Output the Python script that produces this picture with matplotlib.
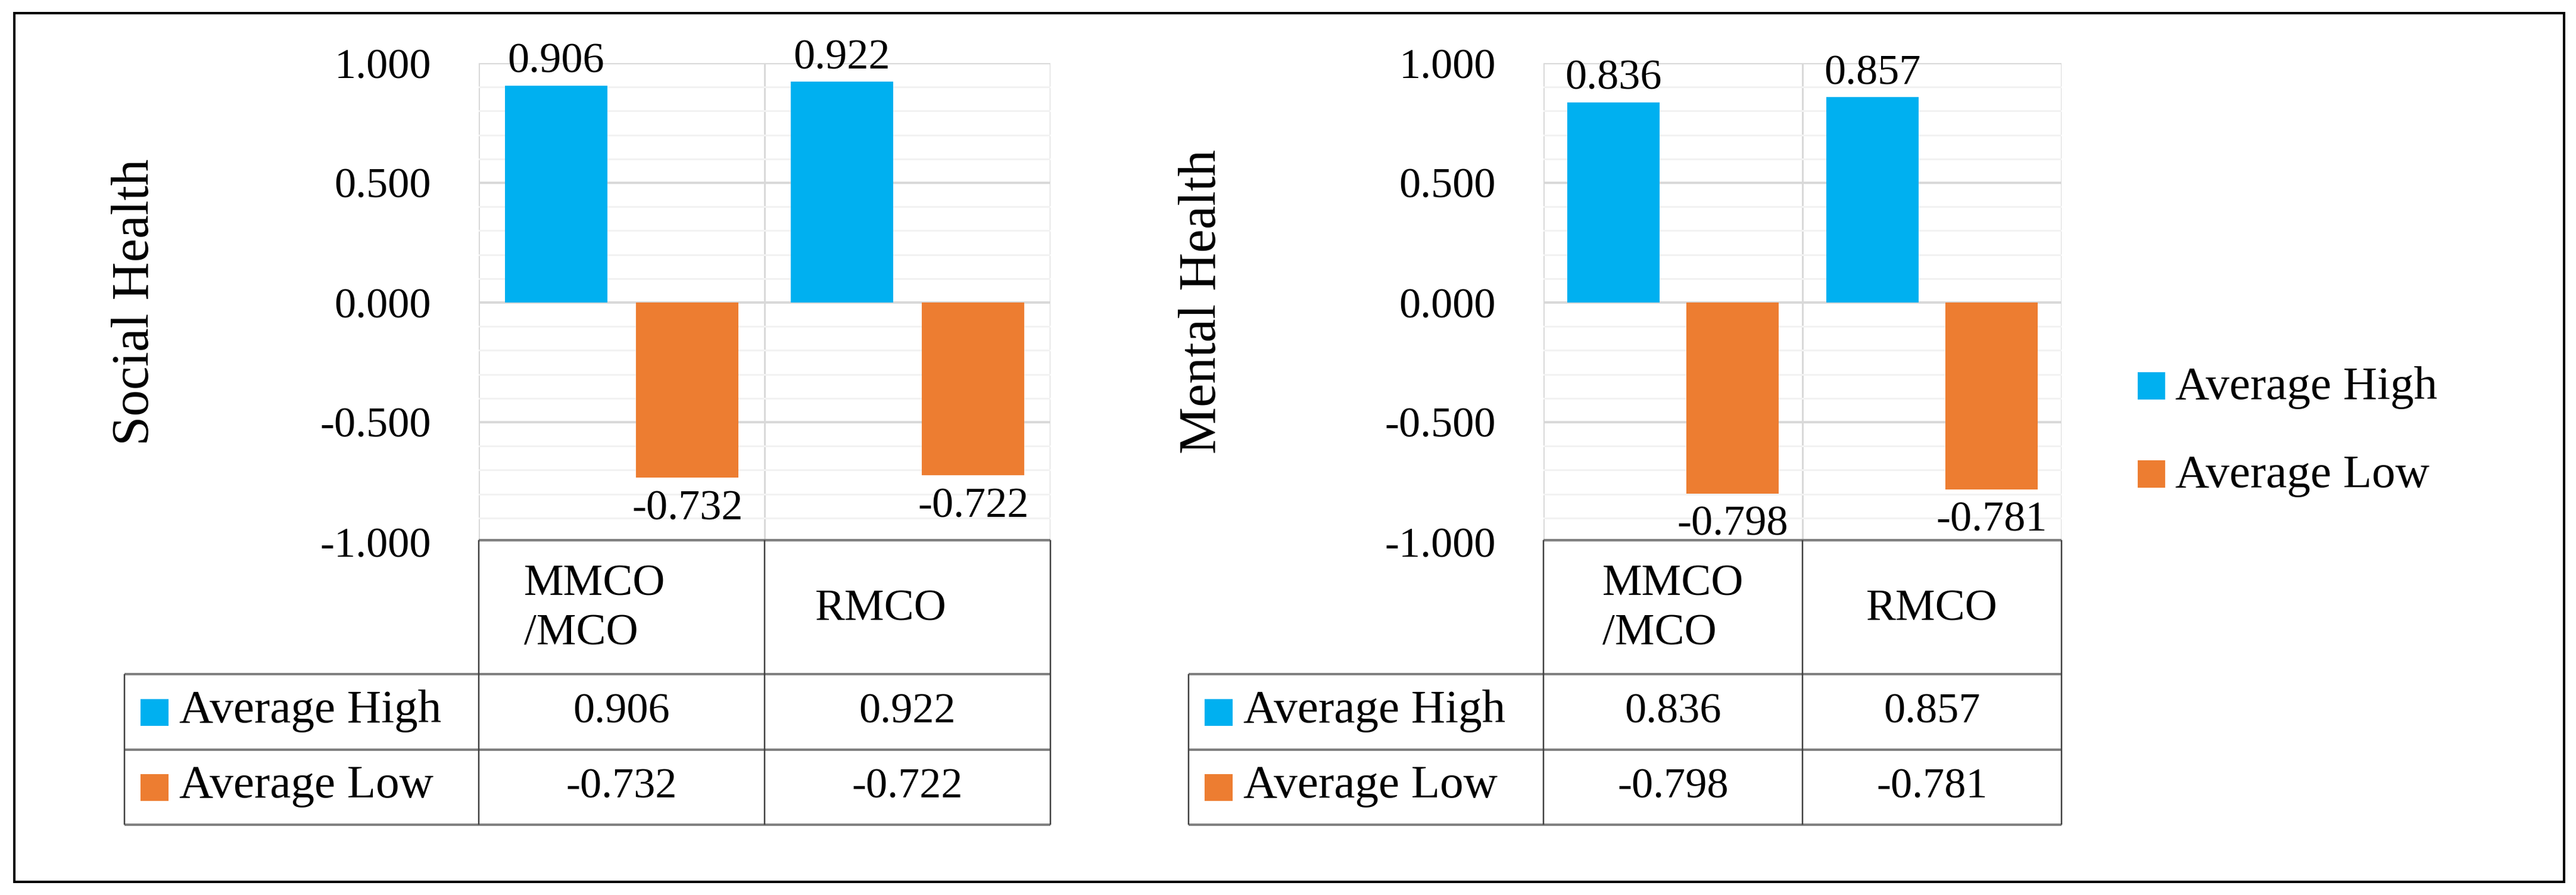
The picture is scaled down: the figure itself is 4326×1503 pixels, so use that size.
import matplotlib
matplotlib.use('Agg')
import numpy as np
import matplotlib.pyplot as plt
from matplotlib import font_manager
from matplotlib.ticker import MultipleLocator, FormatStrFormatter
from matplotlib.patches import Rectangle
from matplotlib.lines import Line2D

categories = ['MMCO\n/MCO', 'RMCO']
series = ['Average High', 'Average Low']
social_high = [0.906, 0.922]
social_low = [-0.732, -0.722]
mental_high = [0.836, 0.857]
mental_low = [-0.798, -0.781]
colors = ['#00B0F0', '#ED7D31']

W, H = 4326, 1503

# pick a Times-like serif that is really installed
have = {f.name for f in font_manager.fontManager.ttflist}
serif = [n for n in ['Liberation Serif', 'Tinos', 'Times New Roman', 'DejaVu Serif'] if n in have]
plt.rcParams['font.family'] = 'serif'
plt.rcParams['font.serif'] = serif + ['DejaVu Serif']

fig = plt.figure(figsize=(W / 100, H / 100), dpi=100)


def fx(p):
    return p / W


def fy(p):
    return 1 - p / H


def pt(p):
    # pixels -> points at dpi 100
    return p * 0.72


def hline(x1, x2, y, color, lw):
    fig.add_artist(Line2D([fx(x1), fx(x2)], [fy(y), fy(y)], color=color, lw=pt(lw),
                          solid_capstyle='butt'))


def vline(x, y1, y2, color, lw):
    fig.add_artist(Line2D([fx(x), fx(x)], [fy(y1), fy(y2)], color=color, lw=pt(lw),
                          solid_capstyle='butt'))


# ylabel, high, low, plot left px, column width px, table left px, ylabel x px, header shift px
panels = [
    ('Social Health', social_high, social_low, 804, 480, 209, 228, -45),
    ('Mental Health', mental_high, mental_low, 2592, 435, 1996, 2020, 0),
]
y_top, y_bot = 106, 910
rows = [907, 1132, 1259, 1385]
tbl_h = '#808080'
tbl_v = '#404040'

for ylab, high, low, x0, cw, tl, ylx, shift in panels:
    ax = fig.add_axes([fx(x0), fy(y_bot), 2 * cw / W, (y_bot - y_top) / H])
    x = np.arange(len(categories)) + 0.5
    ax.bar(x - 0.23, high, width=0.358, color=colors[0], zorder=3)
    ax.bar(x + 0.23, low, width=0.358, color=colors[1], zorder=3)
    ax.set_xlim(0, 2)
    ax.set_ylim(-1, 1)
    ax.yaxis.set_major_locator(MultipleLocator(0.5))
    ax.yaxis.set_minor_locator(MultipleLocator(0.1))
    ax.yaxis.set_major_formatter(FormatStrFormatter('%.3f'))
    ax.set_xticks([0, 1, 2])
    ax.set_xticklabels([])
    ax.grid(which='major', axis='y', color='#D9D9D9', lw=pt(4))
    ax.grid(which='minor', axis='y', color='#F2F2F2', lw=pt(3))
    ax.grid(which='major', axis='x', color='#D9D9D9', lw=pt(3))
    ax.set_axisbelow(True)
    ax.tick_params(which='both', length=0, labelsize=52, pad=pt(80))
    for s in ax.spines.values():
        s.set_visible(False)

    for xi, v in zip(x - 0.23, high):
        ax.annotate(f'{v:.3f}', (xi, v), xytext=(0, pt(22)), textcoords='offset points',
                    ha='center', va='baseline', fontsize=52)
    for xi, v in zip(x + 0.23, low):
        ax.annotate(f'{v:.3f}', (xi, v), xytext=(0, -pt(20 + 50)), textcoords='offset points',
                    ha='center', va='baseline', fontsize=52, annotation_clip=False)

    fig.text(fx(ylx), fy(507), ylab, rotation=90, ha='center', va='center', fontsize=64)

    # data table under the plot
    x_end = x0 + 2 * cw
    hline(x0, x_end, rows[0], tbl_h, 4)
    for r in rows[1:]:
        hline(tl, x_end, r, tbl_h, 4)
    vline(tl, rows[1], rows[3], tbl_v, 2.5)
    for k in range(3):
        vline(x0 + k * cw, rows[0], rows[3], tbl_v, 2.5)

    for i, c in enumerate(categories):
        fig.text(fx(x0 + (i + 0.5) * cw + shift), fy((rows[0] + rows[1]) / 2 + 4), c,
                 ha='center', va='center', multialignment='left', fontsize=54, linespacing=1.3)

    for j, (name, vals) in enumerate(zip(series, [high, low])):
        yc = (rows[j + 1] + rows[j + 2]) / 2
        fig.add_artist(Rectangle((fx(tl + 27), fy(yc + 23)), 47 / W, 45 / H,
                                 transform=fig.transFigure, color=colors[j], lw=0))
        fig.text(fx(tl + 92), fy(yc + 17), name, ha='left', va='baseline', fontsize=57)
        for i, v in enumerate(vals):
            fig.text(fx(x0 + (i + 0.5) * cw), fy(yc + 18), f'{v:.3f}',
                     ha='center', va='baseline', fontsize=52)

# legend on the right
for j, name in enumerate(series):
    ytop = [625, 773][j]
    fig.add_artist(Rectangle((fx(3590), fy(ytop + 46)), 46 / W, 46 / H,
                             transform=fig.transFigure, color=colors[j], lw=0))
    fig.text(fx(3653), fy(ytop + 45), name, ha='left', va='baseline', fontsize=57)

# outer frame
fig.add_artist(Rectangle((fx(24), fy(1481)), (4306 - 24) / W, (1481 - 22) / H,
                         transform=fig.transFigure, fill=False, ec='black', lw=pt(4)))

fig.savefig('out.png', dpi=100)
